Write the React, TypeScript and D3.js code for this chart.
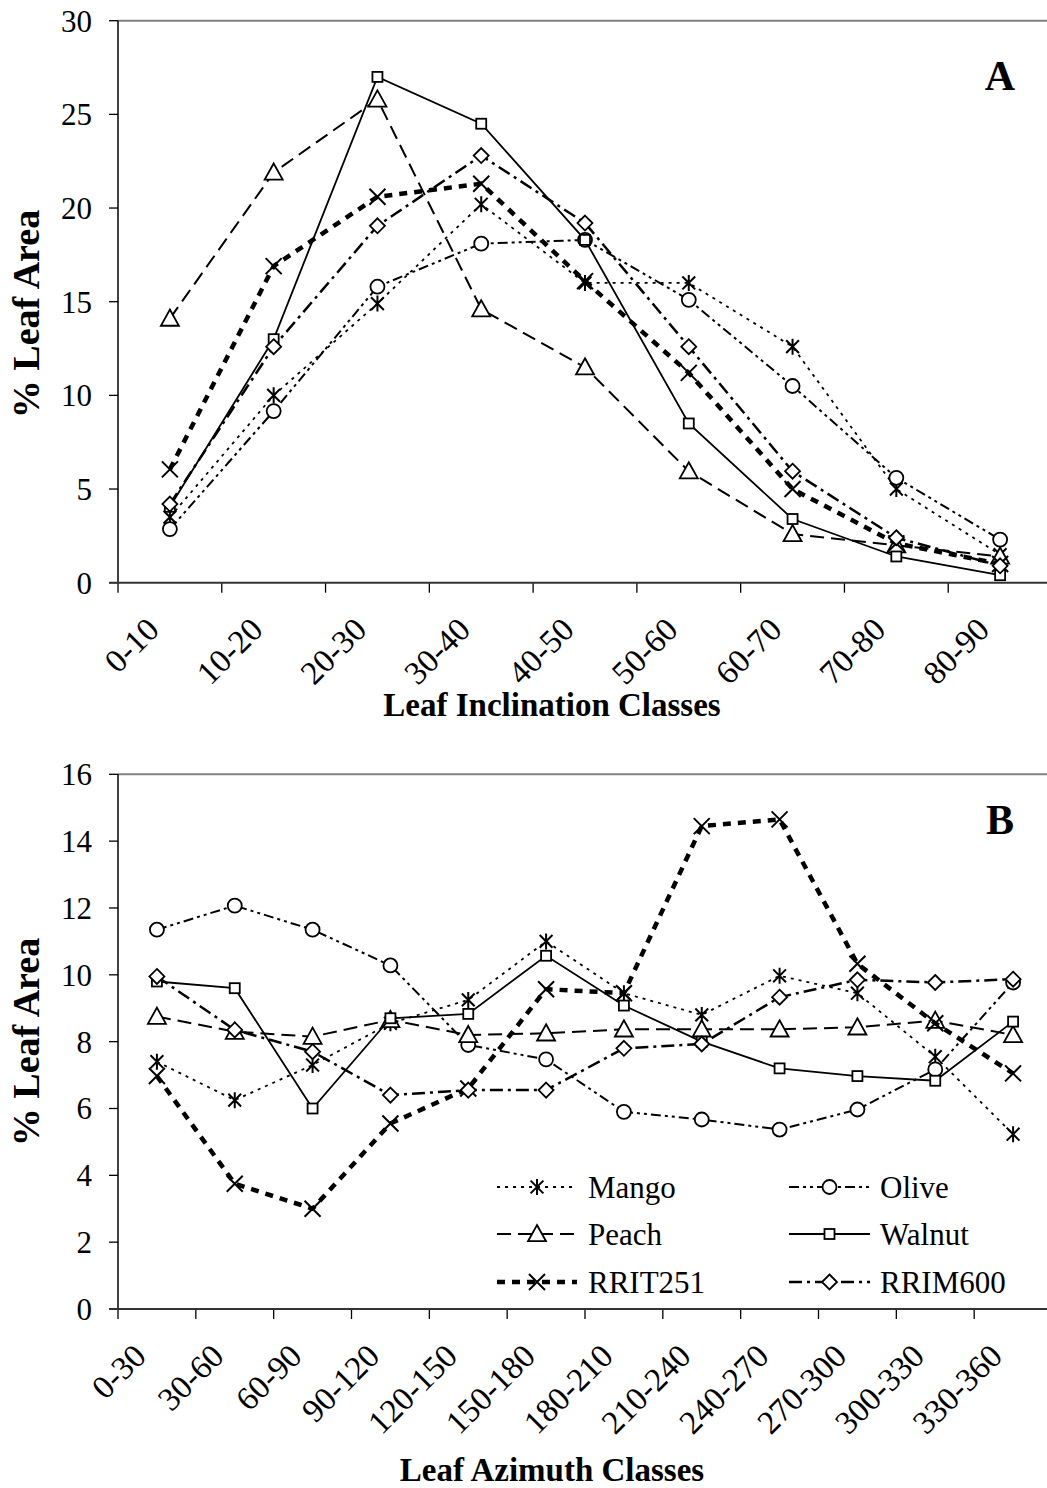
import React from "react";
import * as d3 from "d3";

const inclinationClasses = ["0-10", "10-20", "20-30", "30-40", "40-50", "50-60", "60-70", "70-80", "80-90"];
const azimuthClasses = ["0-30", "30-60", "60-90", "90-120", "120-150", "150-180", "180-210", "210-240", "240-270", "270-300", "300-330", "330-360"];

const seriesNames = ["Mango", "Olive", "Peach", "Walnut", "RRIT251", "RRIM600"];

// Panel A values (% leaf area by inclination class)
const mangoA = [3.5, 10.0, 14.9, 20.2, 16.0, 16.0, 12.6, 5.0, 1.5];
const oliveA = [2.86, 9.16, 15.8, 18.1, 18.3, 15.1, 10.5, 5.6, 2.3];
const peachA = [14.1, 21.9, 25.8, 14.6, 11.5, 5.95, 2.6, 2.0, 1.4];
const walnutA = [4.05, 13.0, 27.0, 24.5, 18.3, 8.5, 3.4, 1.4, 0.4];
const rrit251A = [6.05, 16.9, 20.6, 21.3, 16.1, 11.2, 5.0, 2.1, 1.0];
const rrim600A = [4.2, 12.6, 19.05, 22.8, 19.2, 12.6, 5.95, 2.4, 0.9];

// Panel B values (% leaf area by azimuth class)
const mangoB = [7.4, 6.25, 7.3, 8.55, 9.25, 11.0, 9.45, 8.8, 9.97, 9.45, 7.55, 5.23];
const oliveB = [11.35, 12.07, 11.35, 10.28, 7.9, 7.47, 5.9, 5.67, 5.37, 5.97, 7.17, 9.77];
const peachB = [8.75, 8.3, 8.15, 8.65, 8.2, 8.25, 8.37, 8.37, 8.37, 8.43, 8.63, 8.2];
const walnutB = [9.8, 9.6, 6.0, 8.7, 8.83, 10.57, 9.08, 8.0, 7.2, 6.97, 6.83, 8.6];
const rrit251B = [6.97, 3.75, 3.0, 5.55, 6.6, 9.57, 9.45, 14.45, 14.65, 10.33, 8.55, 7.05];
const rrim600B = [9.95, 8.35, 7.7, 6.4, 6.55, 6.55, 7.8, 7.93, 9.33, 9.85, 9.77, 9.87];

const ticksA = [0, 5, 10, 15, 20, 25, 30];
const ticksB = [0, 2, 4, 6, 8, 10, 12, 14, 16];

type Style = { dash: string; width: number; marker: string; msize: number };
const styles: Record<string, Style> = {
  Mango: { dash: "3,5", width: 1.8, marker: "asterisk", msize: 8 },
  Olive: { dash: "10,4,3,4,3,4", width: 2, marker: "circle", msize: 7 },
  Peach: { dash: "14,7", width: 2, marker: "triangle", msize: 9 },
  Walnut: { dash: "", width: 1.8, marker: "square", msize: 5 },
  RRIT251: { dash: "8,7", width: 4.5, marker: "x", msize: 8 },
  RRIM600: { dash: "13,5,3,5", width: 2.5, marker: "diamond", msize: 7.5 },
};

const FONT = "'Liberation Serif', 'Times New Roman', serif";

function Marker({ type, x, y, s }: { type: string; x: number; y: number; s: number }) {
  const st = { stroke: "#000", strokeWidth: 1.8, fill: "#fff" };
  if (type === "circle") return <circle cx={x} cy={y} r={s} {...st} />;
  if (type === "square") return <rect x={x - s} y={y - s} width={2 * s} height={2 * s} {...st} />;
  if (type === "triangle")
    return <path d={`M${x},${y - s}L${x + s},${y + s * 0.8}L${x - s},${y + s * 0.8}Z`} {...st} />;
  if (type === "diamond")
    return <path d={`M${x},${y - s}L${x + s},${y}L${x},${y + s}L${x - s},${y}Z`} {...st} />;
  if (type === "x")
    return <path d={`M${x - s},${y - s}L${x + s},${y + s}M${x - s},${y + s}L${x + s},${y - s}`} stroke="#000" strokeWidth={2} fill="none" />;
  return (
    <path
      d={`M${x - s * 0.8},${y - s * 0.8}L${x + s * 0.8},${y + s * 0.8}M${x - s * 0.8},${y + s * 0.8}L${x + s * 0.8},${y - s * 0.8}M${x},${y - s}L${x},${y + s}`}
      stroke="#000"
      strokeWidth={2}
      fill="none"
    />
  );
}

type PanelProps = {
  cats: string[];
  data: number[][];
  yMax: number;
  ticks: number[];
  top: number;
  bottom: number;
  letter: string;
  letterY: number;
  title: string;
  titleY: number;
  yTitleY: number;
};

function Panel({ cats, data, yMax, ticks, top, bottom, letter, letterY, title, titleY, yTitleY }: PanelProps) {
  const left = 118;
  const right = 1052;
  const x = d3.scaleBand<string>().domain(cats).range([left, right]).padding(0);
  const y = d3.scaleLinear().domain([0, yMax]).range([bottom, top]);
  const cx = (c: string) => (x(c) as number) + x.bandwidth() / 2;
  const line = d3
    .line<number>()
    .x((_, i) => cx(cats[i]))
    .y((v) => y(v));
  const bounds = cats.map((c) => x(c) as number).concat([right]);
  return (
    <g>
      <line x1={left} x2={right} y1={top} y2={top} stroke="#808080" strokeWidth={2} />
      {ticks.map((t) => (
        <g key={t}>
          <line x1={left - 9} x2={left} y1={y(t)} y2={y(t)} stroke="#000" strokeWidth={1.3} />
          <text x={92} y={y(t)} dy="0.35em" textAnchor="end" fontSize={31} fontFamily={FONT}>
            {t}
          </text>
        </g>
      ))}
      {bounds.map((b, i) => (
        <line key={i} x1={b} x2={b} y1={bottom} y2={bottom + 10} stroke="#000" strokeWidth={1.3} />
      ))}
      <line x1={left} x2={left} y1={top} y2={bottom} stroke="#000" strokeWidth={1.5} />
      <line x1={left - 9} x2={right} y1={bottom} y2={bottom} stroke="#333" strokeWidth={2} />
      {cats.map((c) => (
        <text
          key={c}
          transform={`translate(${cx(c) - 9},${bottom + 49}) rotate(-45)`}
          textAnchor="end"
          fontSize={33}
          fontFamily={FONT}
        >
          {c}
        </text>
      ))}
      <text
        transform={`translate(39,${yTitleY}) rotate(-90)`}
        textAnchor="middle"
        fontSize={38}
        fontWeight="bold"
        fontFamily={FONT}
      >
        % Leaf Area
      </text>
      <text x={552} y={titleY} textAnchor="middle" fontSize={33} fontWeight="bold" fontFamily={FONT}>
        {title}
      </text>
      <text x={1000} y={letterY} textAnchor="middle" fontSize={42} fontWeight="bold" fontFamily={FONT}>
        {letter}
      </text>
      {seriesNames.map((name, si) => {
        const st = styles[name];
        return (
          <g key={name}>
            <path
              d={line(data[si]) || ""}
              fill="none"
              stroke="#000"
              strokeWidth={st.width}
              strokeDasharray={st.dash || undefined}
            />
            {data[si].map((v, i) => (
              <Marker key={i} type={st.marker} x={cx(cats[i])} y={y(v)} s={st.msize} />
            ))}
          </g>
        );
      })}
    </g>
  );
}

function Legend() {
  const rows = [1187, 1234, 1282];
  const cols = [
    { x0: 497, x1: 577, tx: 588 },
    { x0: 789, x1: 870, tx: 880 },
  ];
  return (
    <g>
      {seriesNames.map((name, i) => {
        const col = cols[i % 2];
        const yy = rows[Math.floor(i / 2)];
        const st = styles[name];
        const mx = (col.x0 + col.x1) / 2;
        return (
          <g key={name}>
            <line
              x1={col.x0}
              x2={col.x1}
              y1={yy}
              y2={yy}
              stroke="#000"
              strokeWidth={st.width}
              strokeDasharray={st.dash || undefined}
            />
            <Marker type={st.marker} x={mx} y={yy} s={st.msize} />
            <text x={col.tx} y={yy} dy="0.35em" fontSize={31} fontFamily={FONT}>
              {name}
            </text>
          </g>
        );
      })}
    </g>
  );
}

export default function App() {
  const dataA = [mangoA, oliveA, peachA, walnutA, rrit251A, rrim600A];
  const dataB = [mangoB, oliveB, peachB, walnutB, rrit251B, rrim600B];
  return (
    <svg
      width={1047}
      height={1488}
      style={{ position: "absolute", left: 0, top: 0, background: "#fff" }}
    >
      <rect x={0} y={0} width={1047} height={1488} fill="#fff" />
      <Panel
        cats={inclinationClasses}
        data={dataA}
        yMax={30}
        ticks={ticksA}
        top={20.7}
        bottom={582.7}
        letter="A"
        letterY={90}
        title="Leaf Inclination Classes"
        titleY={716}
        yTitleY={314}
      />
      <Panel
        cats={azimuthClasses}
        data={dataB}
        yMax={16}
        ticks={ticksB}
        top={774.3}
        bottom={1309}
        letter="B"
        letterY={834}
        title="Leaf Azimuth Classes"
        titleY={1481}
        yTitleY={1042}
      />
      <Legend />
    </svg>
  );
}
